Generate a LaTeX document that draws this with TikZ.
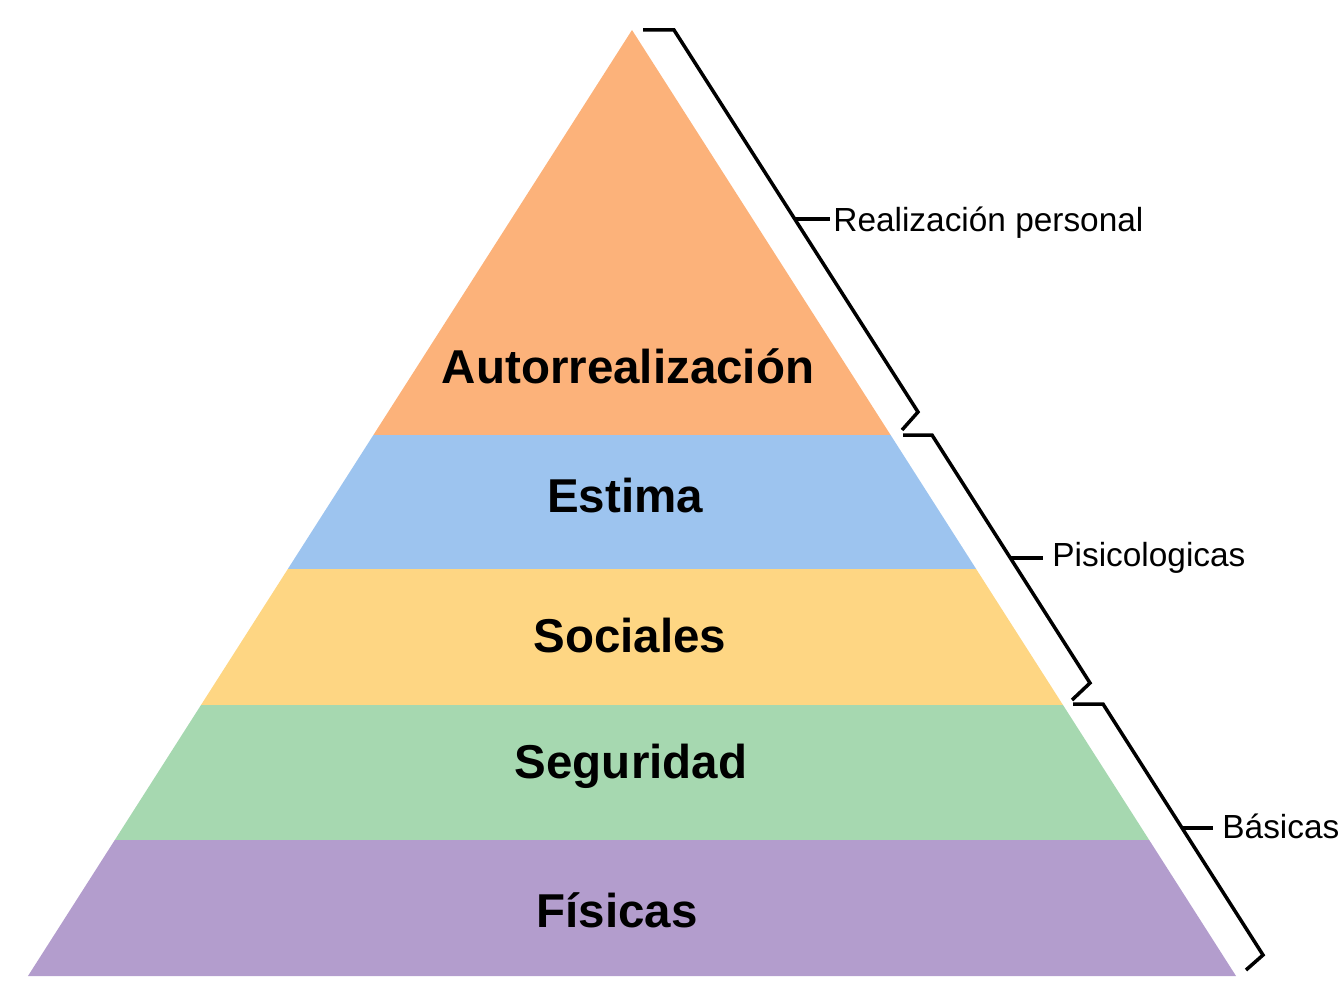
\documentclass[tikz,border=0pt]{standalone}
\usepackage{fontspec}
\setmainfont{Liberation Sans}
\usetikzlibrary{positioning}
\definecolor{selfc}{RGB}{252,178,122}
\definecolor{esteemc}{RGB}{157,196,239}
\definecolor{socialc}{RGB}{254,214,131}
\definecolor{safetyc}{RGB}{166,216,176}
\definecolor{bodyc}{RGB}{179,157,205}
\tikzset{
  level/.style={font=\fontsize{23.75}{26}\selectfont\bfseries,inner sep=0pt,anchor=base},
  group/.style={font=\fontsize{16.7}{19}\selectfont,inner sep=0pt,anchor=base west},
  brace/.style={draw=black,line width=1.75pt,line join=miter}
}
\begin{document}
\begin{tikzpicture}[x=0.5pt,y=-0.5pt]
  \useasboundingbox (0,0) rectangle (1344,1000);
  % layers of the pyramid
  \foreach \ya/\yb/\c in {30/435/selfc,435/569/esteemc,569/705/socialc,705/840/safetyc,840/976/bodyc}{
    \pgfmathsetmacro\la{632-0.6385*(\ya-30)}
    \pgfmathsetmacro\ra{632+0.6385*(\ya-30)}
    \pgfmathsetmacro\lb{632-0.6385*(\yb-30)}
    \pgfmathsetmacro\rb{632+0.6385*(\yb-30)}
    \fill[\c] (\la,\ya) -- (\ra,\ya) -- (\rb,\yb) -- (\lb,\yb) -- cycle;
  }
  \foreach \t/\x/\y [count=\i] in {Autorrealización/628/383,Estima/625/512,Sociales/630/652,Seguridad/631/778,Físicas/617/927}{
    \node[level] (lvl\i) at (\x,\y) {\t};
  }
  % brackets
  \draw[brace] (643,30) -- (674,30) -- (918,412) -- (902,430);
  \draw[brace] (903,435) -- (932,435) -- (1090,683) -- (1072,700);
  \draw[brace] (1073,704) -- (1103,704) -- (1263,955) -- (1246,970);
  \coordinate (b1) at (795,219);
  \coordinate (b2) at (1011,558);
  \coordinate (b3) at (1182,828);
  \coordinate (k1) at (830,219);
  \coordinate (k2) at (1043,558);
  \coordinate (k3) at (1213,828);
  \node[group] (g1) at (833,232) {Realización personal};
  \node[group] (g2) at (1052,566) {Pisicologicas};
  \node[group] (g3) at (1222,838) {Básicas};
  \foreach \i in {1,2,3}
    \draw[brace] (b\i) -- (k\i);
\end{tikzpicture}
\end{document}
